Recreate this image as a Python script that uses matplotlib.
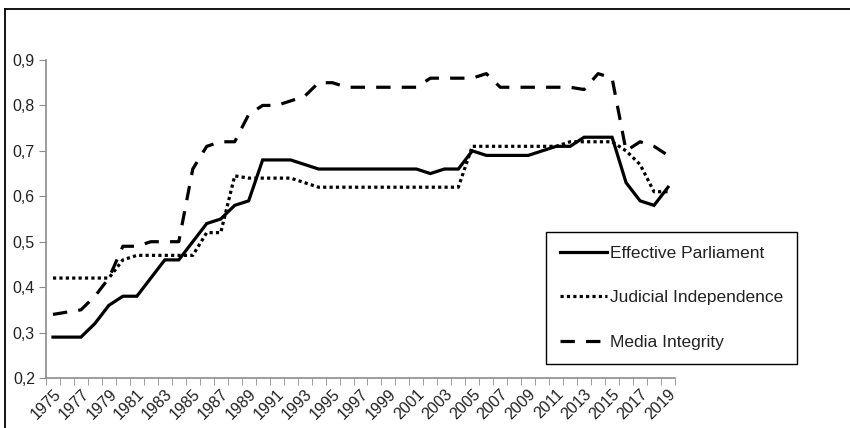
import matplotlib
matplotlib.use("Agg")
import matplotlib.pyplot as plt
from matplotlib.lines import Line2D

plt.rcParams['font.family'] = ['Liberation Sans', 'DejaVu Sans']

years = list(range(1975, 2020))
parliament = [0.29, 0.29, 0.29, 0.32, 0.36, 0.38, 0.38, 0.42, 0.46, 0.46,
              0.50, 0.54, 0.55, 0.58, 0.59, 0.68, 0.68, 0.68, 0.67, 0.66,
              0.66, 0.66, 0.66, 0.66, 0.66, 0.66, 0.66, 0.65, 0.66, 0.66,
              0.70, 0.69, 0.69, 0.69, 0.69, 0.70, 0.71, 0.71, 0.73, 0.73,
              0.73, 0.63, 0.59, 0.58, 0.62]
judicial = [0.42, 0.42, 0.42, 0.42, 0.42, 0.46, 0.47, 0.47, 0.47, 0.47,
            0.47, 0.52, 0.52, 0.645, 0.64, 0.64, 0.64, 0.64, 0.63, 0.62,
            0.62, 0.62, 0.62, 0.62, 0.62, 0.62, 0.62, 0.62, 0.62, 0.62,
            0.71, 0.71, 0.71, 0.71, 0.71, 0.71, 0.71, 0.72, 0.72, 0.72,
            0.72, 0.70, 0.67, 0.61, 0.61]
media = [0.34, 0.345, 0.35, 0.38, 0.42, 0.49, 0.49, 0.50, 0.50, 0.50,
         0.66, 0.71, 0.72, 0.72, 0.78, 0.80, 0.80, 0.81, 0.82, 0.85,
         0.85, 0.84, 0.84, 0.84, 0.84, 0.84, 0.84, 0.86, 0.86, 0.86,
         0.86, 0.87, 0.84, 0.84, 0.84, 0.84, 0.84, 0.84, 0.835, 0.87,
         0.86, 0.70, 0.72, 0.71, 0.69]
yticks = [0.2, 0.3, 0.4, 0.5, 0.6, 0.7, 0.8, 0.9]
ytick_labels = ['0,2', '0,3', '0,4', '0,5', '0,6', '0,7', '0,8', '0,9']

W, H = 850, 428
fig = plt.figure(figsize=(W / 100, H / 100), dpi=100)
ax = fig.add_axes([46 / W, 1 - 378 / H, (675 - 46) / W, (378 - 60) / H])

x = list(range(len(years)))
ax.plot(x, parliament, color='black', lw=2.3, solid_joinstyle='miter',
        label='Effective Parliament')
ax.plot(x, judicial, color='black', lw=2.3, linestyle=(0, (1, 1)),
        label='Judicial Independence')
ax.plot(x, media, color='black', lw=2.3, linestyle=(0, (4.5, 3.5)),
        label='Media Integrity')

ax.set_xlim(-0.5, len(years) - 0.5)
ax.set_ylim(0.2, 0.9)
ax.set_yticks(yticks)
ax.set_yticklabels(ytick_labels)
ax.set_xticks(x[::2])
ax.set_xticklabels([str(y) for y in years[::2]], rotation=45, ha='right',
                   va='top', rotation_mode='anchor')
ax.set_xticks([i - 0.5 for i in range(len(years) + 1)], minor=True)

for s in ['top', 'right']:
    ax.spines[s].set_visible(False)
for s in ['left', 'bottom']:
    ax.spines[s].set_color('#8c8c8c')
    ax.spines[s].set_linewidth(1.2)
ax.tick_params(axis='y', length=5, color='#8c8c8c', labelsize=11.5,
               labelcolor='#222222', pad=3)
ax.tick_params(axis='x', which='major', length=0, labelsize=11.5,
               labelcolor='#222222', pad=6)
ax.tick_params(axis='x', which='minor', length=5, color='#8c8c8c')

leg = fig.legend(loc='upper left', bbox_to_anchor=(546 / W, 1 - 232 / H),
                 fontsize=12.5, frameon=True, fancybox=False, framealpha=1,
                 edgecolor='black', handlelength=2.7, handletextpad=0.18,
                 labelspacing=1.68, borderpad=0.8, borderaxespad=0)
leg.get_frame().set_linewidth(1.0)
for t in leg.get_texts():
    t.set_color('#222222')

# outer frame of the original picture
fig.add_artist(Line2D([5 / W, 1], [1 - 9 / H, 1 - 9 / H], color='black',
                      lw=1.3, transform=fig.transFigure))
fig.add_artist(Line2D([5 / W, 5 / W], [0, 1 - 9 / H], color='black',
                      lw=1.3, transform=fig.transFigure))

fig.savefig('out.png', dpi=100)
